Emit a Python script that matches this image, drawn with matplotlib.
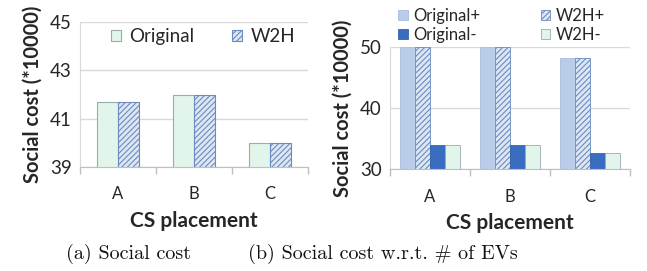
import matplotlib
matplotlib.use("Agg")
import matplotlib.pyplot as plt
import numpy as np

categories = ["A", "B", "C"]
# Panel (a)
orig_a = [41.67, 42.0, 40.0]
w2h_a = [41.67, 42.0, 40.0]
yticks_a = [39, 41, 43, 45]
# Panel (b)
orig_plus = [50.0, 49.9, 48.1]
w2h_plus = [50.0, 49.9, 48.1]
orig_minus = [34.0, 34.0, 32.7]
w2h_minus = [34.0, 34.0, 32.7]
yticks_b = [30, 40, 50]

plt.rcParams['font.family'] = ['Lato', 'DejaVu Sans']
plt.rcParams['hatch.linewidth'] = 0.8

fig = plt.figure(figsize=(6.47, 2.71), dpi=100)
ax1 = fig.add_axes([80/647, 1-167/271, 228/647, 145/271])
ax2 = fig.add_axes([390/647, 1-169.3/271, 240/647, 122.6/271])

mint = '#e2f5ea'
mint_edge = '#9aaab0'
hatch_face = '#dde6f2'
hatch_edge = '#6a8cc0'
light_blue = '#b9cde8'
dark_blue = '#3a6cc0'
text_col = '#262626'

def style(ax, yticks, ylim):
    ax.set_ylim(*ylim)
    ax.set_xlim(-0.5, 2.5)
    ax.set_yticks(yticks)
    ax.set_xticks(range(3))
    ax.set_xticklabels(categories)
    ax.set_xticks([-0.5, 0.5, 1.5, 2.5], minor=True)
    ax.tick_params(axis='x', which='major', length=0, labelsize=12, colors=text_col, pad=14)
    ax.tick_params(axis='x', which='minor', length=5, color='#bfbfbf', width=1)
    ax.tick_params(axis='y', length=0, labelsize=13.5, colors=text_col, pad=6)
    ax.grid(axis='y', color='#d9d9d9', linewidth=1)
    ax.set_axisbelow(True)
    for s in ['top', 'right']:
        ax.spines[s].set_visible(False)
    ax.spines['left'].set_color('#d9d9d9')
    ax.spines['bottom'].set_color('#bfbfbf')
    ax.set_xlabel('CS placement', fontsize=15, fontweight='bold', color=text_col, labelpad=6)
    ax.set_ylabel('Social cost (*10000)', fontsize=14.5, fontweight='bold', color=text_col, labelpad=5)

x = np.arange(3)
w = 0.275
ax1.bar(x - w/2, orig_a, w, color=mint, edgecolor=mint_edge, linewidth=0.8, label='Original')
ax1.bar(x + w/2, w2h_a, w, color=hatch_face, edgecolor=hatch_edge, hatch='//////', linewidth=0.8, label='W2H')
style(ax1, yticks_a, (39, 45))
ax1.legend(loc='center', bbox_to_anchor=(0.54, 0.90), ncol=2, frameon=False,
           fontsize=13.5, handlelength=0.55, handleheight=0.55, handletextpad=0.45,
           columnspacing=2.0, labelcolor=text_col)

wb = 0.185
ax2.bar(x - 1.5*wb, orig_plus, wb, color=light_blue, edgecolor='#a9bedc', linewidth=0.6, label='Original+')
ax2.bar(x - 0.5*wb, w2h_plus, wb, color=hatch_face, edgecolor=hatch_edge, hatch='//////', linewidth=0.6, label='W2H+')
ax2.bar(x + 0.5*wb, orig_minus, wb, color=dark_blue, edgecolor='#3563b0', linewidth=0.6, label='Original-')
ax2.bar(x + 1.5*wb, w2h_minus, wb, color=mint, edgecolor=mint_edge, linewidth=0.6, label='W2H-')
style(ax2, yticks_b, (30, 50))
h, l = ax2.get_legend_handles_labels()
order = [0, 2, 1, 3]
ax2.legend([h[i] for i in order], [l[i] for i in order], loc='center',
           bbox_to_anchor=(0.465, 1.175), ncol=2, frameon=False, fontsize=12,
           handlelength=0.55, handleheight=0.55, handletextpad=0.35,
           columnspacing=3.6, labelspacing=0.2, labelcolor=text_col)

fig.text(128/647, 1-254/271, '(a) Social cost', family='cmr10', fontsize=14.5,
         ha='center', va='center', color='#111111')
fig.text(383/647, 1-254/271, '(b) Social cost w.r.t. # of EVs', family='cmr10', fontsize=14.5,
         ha='center', va='center', color='#111111')

fig.savefig('out.png', dpi=100)
